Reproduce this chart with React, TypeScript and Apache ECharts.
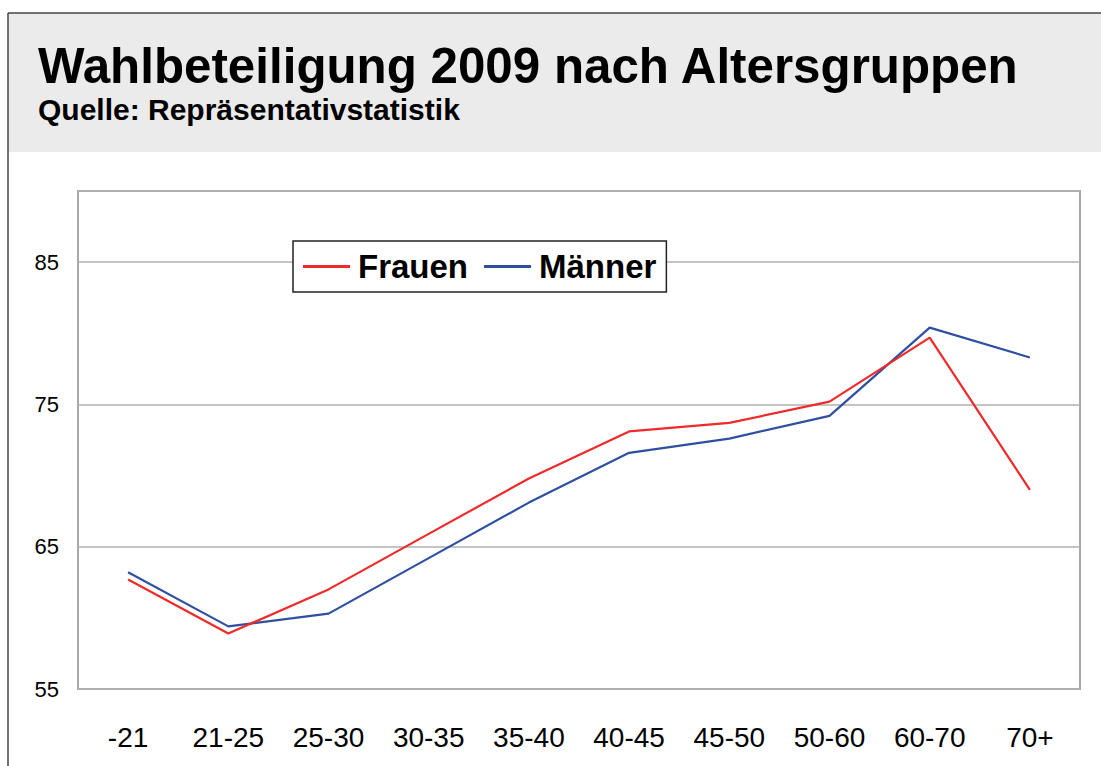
import React, { useEffect, useRef } from "react";
import * as echarts from "echarts";

const categories = ["-21", "21-25", "25-30", "30-35", "35-40", "40-45", "45-50", "50-60", "60-70", "70+"];
const frauen = [62.7, 58.9, 62.0, 65.9, 69.8, 73.1, 73.7, 75.2, 79.7, 69.0];
const maenner = [63.2, 59.4, 60.3, 64.2, 68.1, 71.6, 72.6, 74.2, 80.4, 78.3];
const yTicks = [55, 65, 75, 85];

const titleText = "Wahlbeteiligung 2009 nach Altersgruppen";
const subtitleText = "Quelle: Repräsentativstatistik";

export default function App() {
  const ref = useRef<HTMLDivElement>(null);
  useEffect(() => {
    if (!ref.current) return;
    const chart = echarts.init(ref.current, null, { renderer: "svg" });
    const font = "Liberation Sans, Arial, sans-serif";
    chart.setOption({
      animation: false,
      backgroundColor: "#ffffff",
      graphic: [
        {
          type: "rect",
          z: -10,
          shape: { x: 8, y: 13, width: 1100, height: 139 },
          style: { fill: "#ebebeb" },
        },
        {
          type: "line",
          z: 10,
          shape: { x1: 8, y1: 13, x2: 1101, y2: 13 },
          style: { stroke: "#444444", lineWidth: 1.5 },
        },
        {
          type: "line",
          z: 10,
          shape: { x1: 8, y1: 13, x2: 8, y2: 766 },
          style: { stroke: "#444444", lineWidth: 1.5 },
        },
        {
          type: "text",
          x: 38,
          y: 65,
          style: {
            text: titleText,
            font: "bold 49.3px " + font,
            fill: "#000000",
            verticalAlign: "middle",
          },
        },
        {
          type: "text",
          x: 38,
          y: 109,
          style: {
            text: subtitleText,
            font: "bold 30px " + font,
            fill: "#000000",
            verticalAlign: "middle",
          },
        },
      ],
      grid: {
        left: 78,
        right: 21,
        top: 191,
        bottom: 77,
        show: true,
        borderColor: "#a8a8a8",
        borderWidth: 2,
        backgroundColor: "#ffffff",
      },
      legend: {
        left: 293,
        top: 241,
        orient: "horizontal",
        padding: [9, 10, 9, 10],
        backgroundColor: "#ffffff",
        borderColor: "#222222",
        borderWidth: 1.5,
        borderRadius: 0,
        itemWidth: 47,
        itemHeight: 3,
        itemGap: 16,
        icon: "rect",
        textStyle: {
          fontFamily: font,
          fontWeight: "bold",
          fontSize: 33,
          color: "#000000",
          padding: [0, 0, 0, 3],
        },
        data: ["Frauen", "Männer"],
        z: 10,
      },
      xAxis: {
        type: "category",
        data: categories,
        boundaryGap: true,
        axisLine: { show: false },
        axisTick: { show: false },
        splitLine: { show: false },
        axisLabel: {
          fontFamily: font,
          fontSize: 28,
          color: "#000000",
          margin: 34,
          interval: 0,
        },
      },
      yAxis: {
        type: "value",
        min: 55,
        max: 90,
        interval: 10,
        axisLine: { show: false },
        axisTick: { show: false },
        splitLine: { show: true, lineStyle: { color: "#b0b0b0", width: 1.5 } },
        axisLabel: {
          fontFamily: font,
          fontSize: 22,
          color: "#000000",
          margin: 19,
          formatter: (v: number) => (yTicks.includes(v) ? String(v) : ""),
        },
      },
      series: [
        {
          name: "Frauen",
          type: "line",
          data: frauen,
          symbol: "none",
          lineStyle: { color: "#ee2a2a", width: 2.2 },
          itemStyle: { color: "#ee2a2a" },
          z: 3,
        },
        {
          name: "Männer",
          type: "line",
          data: maenner,
          symbol: "none",
          lineStyle: { color: "#2f4fa0", width: 2.2 },
          itemStyle: { color: "#2f4fa0" },
          z: 2,
        },
      ],
    });
    return () => chart.dispose();
  }, []);
  return (
    <div
      ref={ref}
      style={{ position: "fixed", left: 0, top: 0, width: 1101, height: 766 }}
    />
  );
}
